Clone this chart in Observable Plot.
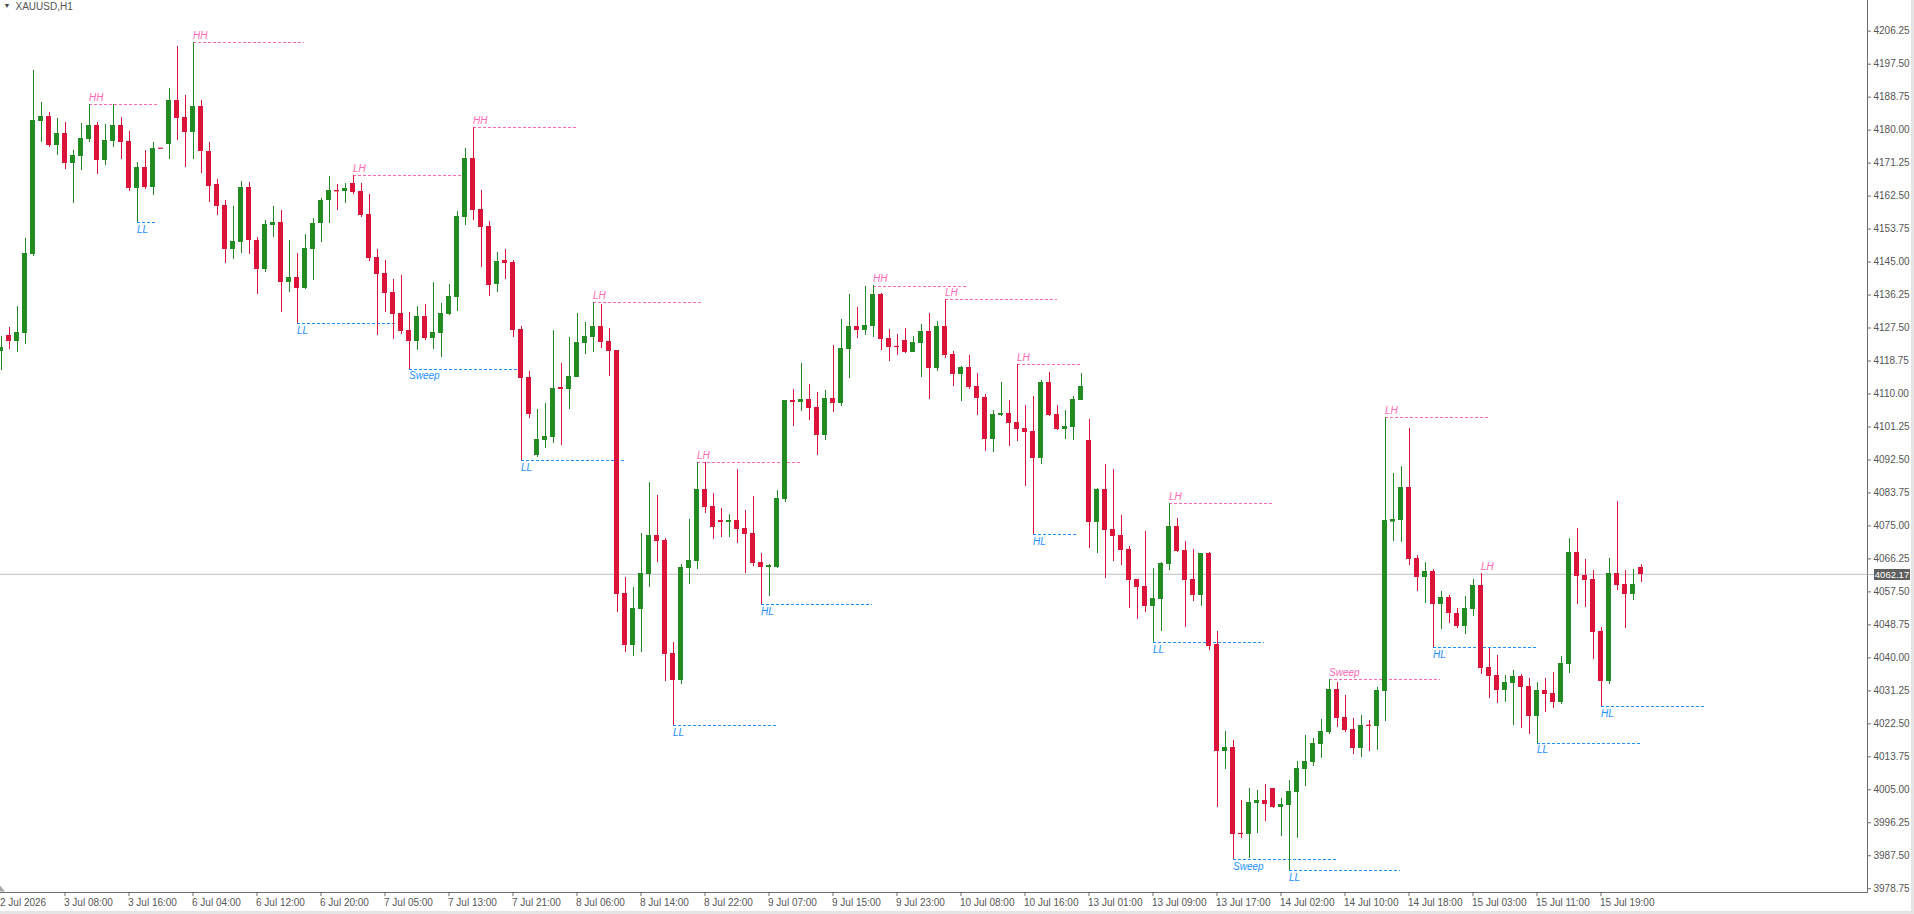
<!DOCTYPE html>
<html><head><meta charset="utf-8">
<script src="https://cdn.jsdelivr.net/npm/d3@7"></script>
<script src="https://cdn.jsdelivr.net/npm/@observablehq/plot@0.6"></script>
<style>
html,body{margin:0;padding:0;background:#fff;}
#chart{width:1914px;height:914px;position:relative;overflow:hidden;}
svg{display:block;}
</style></head><body><div id="chart"></div>
<script>
const symbolTitle = "XAUUSD,H1";
const opens = [4121.4,4125.5,4124.0,4126.1,4147.0,4182.4,4183.6,4176.0,4179.0,4171.2,4173.1,4177.6,4181.2,4172.0,4177.1,4181.2,4177.0,4164.6,4170.1,4164.8,
4175.2,4176.2,4187.9,4183.4,4179.5,4186.3,4174.3,4165.7,4160.0,4148.2,4150.3,4164.8,4150.7,4143.1,4154.8,4155.5,4139.7,4140.9,4138.1,4148.2,
4155.1,4161.2,4163.9,4163.8,4165.9,4163.7,4157.6,4146.2,4142.0,4136.9,4131.4,4126.9,4123.9,4130.6,4124.7,4126.1,4131.1,4135.6,4156.8,4172.5,
4158.9,4154.4,4139.1,4145.4,4144.9,4127.1,4114.4,4093.7,4097.7,4098.5,4111.6,4111.2,4114.4,4123.4,4125.0,4127.9,4123.9,4121.5,4057.1,4043.3,
4052.8,4062.1,4072.5,4071.1,4041.1,4034.0,4063.7,4065.6,4084.7,4080.1,4076.4,4075.9,4076.4,4074.3,4073.0,4065.3,4064.1,4064.0,4082.0,4108.3,
4107.7,4108.5,4106.4,4099.0,4108.8,4107.5,4121.8,4127.9,4126.8,4127.9,4136.4,4124.7,4122.6,4124.2,4121.0,4123.4,4126.6,4116.8,4127.9,4120.5,
4115.2,4117.0,4112.0,4109.1,4097.9,4104.3,4104.8,4102.4,4100.8,4100.1,4092.9,4113.0,4104.6,4100.6,4101.1,4108.3,4097.7,4075.9,4084.7,4074.1,
4072.5,4068.7,4060.8,4058.9,4053.6,4055.5,4064.8,4074.9,4068.5,4060.8,4056.5,4067.7,4043.5,4015.2,4016.2,3993.4,3993.1,4001.4,4002.2,4005.3,
4000.3,4000.8,4004.3,4010.4,4012.2,4017.0,4020.2,4031.6,4024.2,4021.0,4016.0,4022.1,4021.8,4031.1,4076.3,4076.4,4085.2,4066.4,4061.3,4062.9,
4054.2,4056.0,4051.8,4048.3,4052.8,4059.2,4037.4,4035.3,4031.3,4033.2,4035.1,4032.4,4024.4,4031.3,4030.5,4028.2,4038.2,4067.9,4061.8,4060.8,
4047.0,4033.7,4062.4,4059.5,4056.8,4064.0];
const highs = [4125.3,4127.6,4133.2,4151.3,4195.8,4187.2,4184.7,4183.1,4182.0,4174.6,4181.8,4186.7,4182.0,4181.4,4186.7,4183.4,4179.6,4171.3,4174.6,4176.7,
4175.2,4191.1,4202.2,4189.2,4203.2,4187.9,4176.7,4166.9,4161.3,4159.8,4166.3,4166.1,4151.4,4156.0,4159.8,4158.7,4150.7,4147.3,4152.3,4156.6,
4161.9,4167.7,4165.6,4165.9,4168.0,4165.8,4162.9,4148.3,4145.4,4140.3,4141.4,4131.6,4133.2,4133.7,4139.6,4134.0,4139.1,4158.4,4175.1,4180.7,
4164.0,4155.8,4147.6,4148.3,4145.4,4127.9,4116.0,4105.9,4107.5,4126.9,4118.1,4125.0,4131.4,4129.0,4134.3,4133.7,4127.4,4121.5,4061.3,4058.6,
4073.0,4086.5,4083.1,4071.6,4044.1,4064.8,4076.7,4091.8,4091.8,4083.6,4079.6,4078.0,4090.0,4079.1,4082.8,4067.7,4064.8,4084.4,4108.3,4111.2,
4118.1,4112.5,4110.4,4110.9,4122.9,4129.8,4136.4,4132.9,4138.5,4138.8,4136.7,4127.1,4125.8,4127.4,4125.3,4128.4,4131.4,4129.2,4135.1,4121.3,
4117.3,4120.2,4115.4,4109.9,4105.6,4113.0,4108.3,4117.8,4106.9,4109.3,4113.6,4115.7,4106.9,4105.6,4109.3,4115.4,4103.2,4084.9,4091.3,4090.0,
4077.8,4069.5,4060.8,4073.5,4063.7,4065.3,4081.0,4077.0,4070.9,4068.7,4067.7,4068.0,4047.0,4020.5,4018.1,4002.2,4005.3,4004.8,4006.4,4005.3,
4002.7,4007.5,4012.5,4019.4,4018.6,4023.6,4034.2,4033.5,4030.0,4023.9,4024.7,4023.4,4032.1,4103.8,4088.9,4090.8,4100.8,4067.2,4065.3,4063.4,
4057.6,4056.5,4053.1,4056.3,4060.8,4062.4,4042.5,4040.6,4035.3,4036.6,4035.6,4034.5,4033.5,4034.5,4036.1,4040.4,4071.7,4074.3,4066.1,4063.2,
4048.1,4066.4,4081.5,4063.2,4063.4,4064.8];
const lows = [4116.2,4121.9,4121.1,4123.0,4146.5,4176.6,4175.3,4173.2,4169.5,4160.6,4169.3,4176.8,4168.3,4170.7,4175.5,4172.3,4163.6,4155.4,4164.3,4162.7,
4175.0,4172.2,4177.3,4170.2,4172.3,4168.6,4160.9,4157.4,4144.7,4145.8,4147.4,4147.0,4136.4,4142.1,4151.6,4131.5,4136.8,4128.6,4137.6,4140.2,
4150.3,4155.3,4158.7,4160.6,4162.9,4156.9,4145.2,4125.5,4131.5,4124.5,4125.8,4116.6,4121.6,4124.2,4121.8,4119.7,4130.9,4131.9,4154.7,4156.0,
4143.6,4135.9,4136.9,4140.4,4125.0,4092.4,4103.5,4093.2,4095.5,4096.9,4096.3,4105.9,4114.4,4120.5,4121.0,4122.1,4114.6,4052.0,4041.4,4040.4,
4041.4,4058.6,4065.3,4033.7,4022.1,4032.9,4059.5,4063.4,4078.3,4071.4,4071.9,4071.9,4070.3,4062.4,4064.2,4054.2,4056.3,4063.7,4081.2,4101.4,
4105.4,4103.0,4093.7,4097.7,4105.1,4106.7,4114.1,4124.7,4125.5,4125.0,4121.5,4118.6,4120.2,4120.7,4121.0,4114.4,4108.5,4116.0,4119.4,4112.0,
4108.0,4111.2,4104.3,4094.8,4094.5,4104.0,4096.1,4097.4,4085.5,4072.7,4091.3,4104.0,4100.3,4097.9,4097.7,4108.3,4069.0,4067.7,4061.1,4065.6,
4064.5,4053.1,4050.2,4052.0,4044.0,4047.0,4063.2,4067.9,4048.0,4055.0,4053.6,4041.9,4000.3,4010.4,3986.5,3992.1,3986.8,3993.4,3996.6,4000.0,
3992.6,3983.6,3992.1,4005.9,4011.2,4013.3,4019.7,4021.5,4020.2,4014.4,4013.6,4015.2,4015.4,4023.1,4070.9,4070.6,4064.5,4057.6,4054.4,4042.7,
4047.5,4049.1,4047.8,4046.2,4051.0,4035.6,4029.2,4027.9,4028.2,4022.1,4021.3,4019.7,4017.4,4025.5,4026.6,4027.6,4035.9,4054.2,4053.4,4039.6,
4027.1,4032.9,4057.9,4047.8,4055.2,4060.0];
const closes = [4122.4,4124.0,4126.3,4147.2,4182.6,4183.6,4176.0,4179.0,4171.2,4173.3,4177.8,4181.2,4172.0,4177.2,4181.2,4176.8,4164.6,4170.1,4164.8,4175.1,
4175.0,4187.9,4183.2,4179.5,4186.3,4174.2,4165.1,4159.8,4148.2,4150.5,4164.8,4150.6,4143.1,4155.0,4155.5,4139.7,4140.9,4138.1,4148.6,4155.3,
4161.3,4164.0,4163.8,4164.5,4163.5,4157.3,4146.0,4141.7,4136.7,4131.1,4126.6,4123.9,4130.6,4124.6,4126.3,4131.4,4135.9,4157.0,4172.5,4158.7,
4154.2,4138.8,4145.2,4144.6,4126.9,4114.1,4104.6,4097.9,4098.7,4111.5,4111.3,4114.7,4123.7,4125.3,4127.9,4123.7,4121.3,4056.9,4043.3,4053.1,
4062.4,4072.5,4070.9,4040.9,4034.0,4064.0,4065.8,4084.7,4079.9,4074.6,4075.9,4076.4,4074.0,4072.7,4065.0,4064.0,4064.5,4082.3,4108.3,4107.7,
4108.5,4106.1,4099.0,4108.8,4107.5,4122.1,4127.9,4126.8,4128.2,4136.4,4124.5,4122.3,4122.4,4121.0,4123.7,4126.6,4116.8,4127.9,4120.2,4115.2,
4117.0,4111.7,4108.8,4097.9,4104.6,4104.8,4102.2,4100.6,4099.8,4092.9,4113.0,4104.3,4100.6,4101.4,4108.5,4112.0,4075.9,4084.7,4073.8,4072.2,
4068.5,4060.5,4058.7,4053.6,4055.8,4065.0,4074.9,4068.2,4060.5,4056.5,4067.6,4043.0,4015.2,4016.2,3993.1,3993.1,4001.6,4002.2,4001.1,4000.3,
4001.1,4004.5,4010.6,4012.5,4017.3,4020.5,4031.6,4023.9,4020.7,4016.0,4022.0,4021.9,4031.3,4076.4,4076.7,4085.2,4066.1,4061.3,4062.9,4054.2,
4056.0,4051.8,4048.3,4053.1,4059.2,4037.2,4035.1,4031.3,4033.5,4035.1,4032.1,4024.4,4031.3,4030.3,4028.2,4038.5,4067.9,4061.6,4060.5,4046.7,
4033.7,4062.4,4059.2,4056.8,4059.5,4062.17];
const currentPrice = 4062.17;

// market-structure annotations
const structBars   = [11, 17, 24, 37, 44, 51, 59, 65, 74, 84, 87, 95, 109, 118, 127, 129, 144, 146, 154, 161, 166, 173, 179, 185, 192, 200];
const structPrices = [4186.7, 4155.4, 4203.2, 4128.6, 4168.0, 4116.6, 4180.7, 4092.4, 4134.3, 4022.1, 4091.8, 4054.2, 4138.6, 4135.1, 4117.8, 4072.7, 4044.0, 4081.0, 3986.5, 3983.6, 4034.2, 4103.8, 4042.7, 4062.4, 4017.4, 4027.1];
const structTexts  = ["HH","LL","HH","LL","LH","Sweep","HH","LL","LH","LL","LH","HL","HH","LH","LH","HL","LL","LH","Sweep","LL","Sweep","LH","HL","LH","LL","HL"];
const structKinds  = ["high","low","high","low","high","low","high","low","high","low","high","low","high","high","high","low","low","high","low","low","high","high","low","high","low","low"];
const structEnds   = [19.6, 19.6, 37.9, 49.4, 57.75, 64.75, 72, 77.9, 87.75, 97, 100, 108.9, 120.9, 132, 134.9, 134.6, 157.9, 159, 167, 174.9, 179.9, 186, 192, 185, 205, 213];

const xTickBars = d3.range(0, 201, 8);
const xTickLabels = ["2 Jul 2026","3 Jul 08:00","3 Jul 16:00","6 Jul 04:00","6 Jul 12:00","6 Jul 20:00","7 Jul 05:00","7 Jul 13:00","7 Jul 21:00","8 Jul 06:00","8 Jul 14:00","8 Jul 22:00","9 Jul 07:00","9 Jul 15:00","9 Jul 23:00","10 Jul 08:00","10 Jul 16:00","13 Jul 01:00","13 Jul 09:00","13 Jul 17:00","14 Jul 02:00","14 Jul 10:00","14 Jul 18:00","15 Jul 03:00","15 Jul 11:00","15 Jul 19:00"];
const yTicks = d3.range(0, 27).map(k => 3978.75 + 8.75 * k);

const UP = "#228b22", DOWN = "#dc143c", PINK = "#ff69b4", BLUE = "#1e90ff", AXIS = "#6d6d6d", TXT = "#555";
const FONT = "Liberation Sans, Arial, sans-serif";

const candles = opens.map((o, i) => ({i, open: o, high: highs[i], low: lows[i], close: closes[i], color: closes[i] >= o ? UP : DOWN}));
const dojis = candles.filter(d => Math.abs(d.open - d.close) < 0.4);
const structs = structBars.map((b, k) => ({bar: b, price: structPrices[k], text: structTexts[k], kind: structKinds[k], end: structEnds[k], color: structKinds[k] === "high" ? PINK : BLUE}));
const labelMap = new Map(xTickBars.map((b, k) => [b, xTickLabels[k]]));
const half = 0.3125;

const plot = Plot.plot({
  width: 1914,
  height: 914,
  marginTop: 0, marginLeft: 0, marginRight: 47, marginBottom: 22,
  style: {fontFamily: FONT, background: "#fff", overflow: "visible"},
  x: {type: "linear", domain: [0, 233.25], range: [0.5, 1866.5]},
  y: {type: "linear", domain: [3977.75, 4214.39], range: [892, 0]},
  marks: [
    Plot.ruleY([currentPrice], {stroke: "#c0c0c0", strokeWidth: 1}),
    Plot.ruleY(structs.filter(d => d.end > d.bar), {y: "price", x1: "bar", x2: "end", stroke: "color", strokeDasharray: "3,2", shapeRendering: "crispEdges"}),
    Plot.ruleX(candles, {x: "i", y1: "low", y2: "high", stroke: "color", strokeWidth: 1, shapeRendering: "crispEdges"}),
    Plot.rect(candles, {x1: d => d.i - half, x2: d => d.i + half, y1: d => Math.min(d.open, d.close), y2: d => Math.max(d.open, d.close), fill: "color", shapeRendering: "crispEdges"}),
    Plot.ruleY(dojis, {y: "open", x1: d => d.i - half, x2: d => d.i + half, stroke: "color", strokeWidth: 1.2}),
    Plot.text(structs.filter(d => d.kind === "high"), {x: "bar", y: "price", text: "text", fill: "color", fontStyle: "italic", fontSize: 10, textAnchor: "start", dy: -7, dx: 0}),
    Plot.text(structs.filter(d => d.kind === "low"), {x: "bar", y: "price", text: "text", fill: "color", fontStyle: "italic", fontSize: 10, textAnchor: "start", dy: 7, dx: 0}),
    Plot.axisY(yTicks, {anchor: "right", tickSize: 3, tickPadding: 3, tickFormat: d => d.toFixed(2), fontSize: 10, color: TXT, stroke: AXIS}),
    Plot.axisX(xTickBars.filter(b => b > 0), {anchor: "bottom", tickSize: 4, tickFormat: () => "", stroke: AXIS}),
    Plot.axisX(xTickBars, {anchor: "bottom", tickSize: 0, tickPadding: 6, tickFormat: b => labelMap.get(b), textAnchor: "start", dx: -1, fontSize: 10, color: TXT}),
    Plot.text([symbolTitle], {frameAnchor: "top-left", dx: 15, dy: 2, textAnchor: "start", lineAnchor: "top", fontSize: 10, fill: TXT}),
    Plot.text(["▼"], {frameAnchor: "top-left", dx: 3, dy: 3, textAnchor: "start", lineAnchor: "top", fontSize: 7, fill: "#444"})
  ]
});

document.getElementById("chart").appendChild(plot);

// chart frame lines, current-price tag, panel strips
const svg = d3.select(plot);
const ys = plot.scale("y");
const right = 1867.5, bottom = ys.range[0] + 0.5;
svg.append("line").attr("x1", right).attr("x2", right).attr("y1", 0).attr("y2", bottom).attr("stroke", AXIS);
svg.append("line").attr("x1", 0).attr("x2", right).attr("y1", bottom).attr("y2", bottom).attr("stroke", AXIS);
svg.append("rect").attr("x", 0).attr("y", 911).attr("width", 1914).attr("height", 3).attr("fill", "#e4e4e4");
svg.append("rect").attr("x", 1911).attr("y", 0).attr("width", 3).attr("height", 914).attr("fill", "#e4e4e4");
svg.append("path").attr("d", `M0,${bottom - 7}L5,${bottom - 1}L0,${bottom - 1}Z`).attr("fill", "#aaa");
const yc = Math.round(ys.apply(currentPrice));
svg.append("line").attr("x1", right).attr("x2", 1874).attr("y1", yc + 0.5).attr("y2", yc + 0.5).attr("stroke", "#c0c0c0");
svg.append("rect").attr("x", 1874).attr("y", yc - 5).attr("width", 36).attr("height", 11).attr("fill", "#5f5f5f");
svg.append("text").attr("x", 1892).attr("y", yc + 0.5).attr("dy", "0.35em").attr("text-anchor", "middle")
  .attr("fill", "#fff").attr("font-size", 9.5).attr("font-family", FONT).text(currentPrice.toFixed(2));
</script></body></html>
